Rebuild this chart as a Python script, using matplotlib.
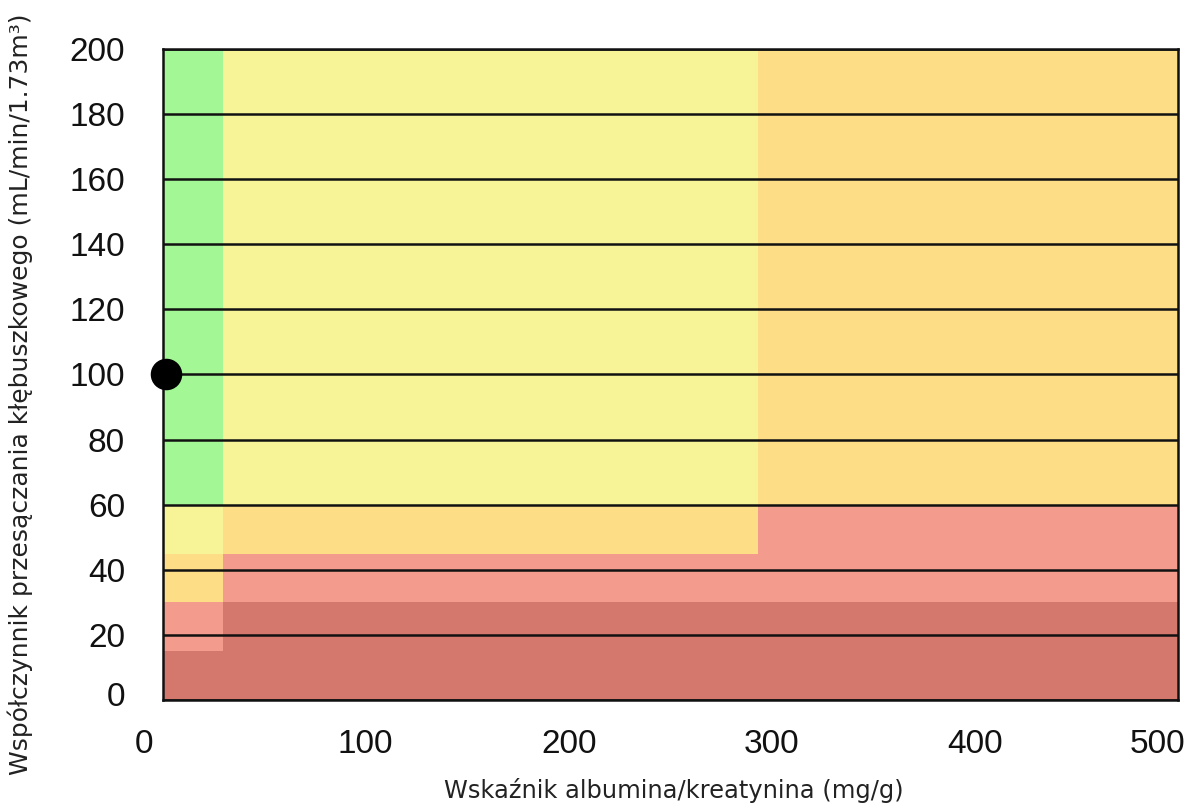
import matplotlib
matplotlib.use("Agg")
import matplotlib.pyplot as plt
import matplotlib.transforms as mtransforms

# Albumin/creatinine ratio column boundaries (mg/g)
acr_edges = [0, 30, 293, 500]

# GFR band boundaries and risk level of each band, per ACR column
gfr_breaks = [
    [0, 15, 30, 45, 60, 200],
    [0, 30, 45, 60, 200],
    [0, 30, 60, 200],
]
risk_levels = [
    [4, 3, 2, 1, 0],
    [4, 3, 2, 1],
    [4, 3, 2],
]
risk_colors = ["#a3f794", "#f7f497", "#fedd87", "#f39b8d", "#d4786d"]

# Patient result
patient_acr = [1.7]
patient_gfr = [100]

x_ticks = [0, 100, 200, 300, 400, 500]
y_ticks = [0, 20, 40, 60, 80, 100, 120, 140, 160, 180, 200]

fig = plt.figure(figsize=(11.92, 8.05), dpi=100)
W, H = 1192, 805
left, right, top, bottom = 162.5, 1178, 49, 700
ax = fig.add_axes([left / W, 1 - bottom / H, (right - left) / W, (bottom - top) / H])

for c in range(len(acr_edges) - 1):
    x0, x1 = acr_edges[c], acr_edges[c + 1]
    br = gfr_breaks[c]
    for k, lvl in enumerate(risk_levels[c]):
        ax.bar(x0, br[k + 1] - br[k], bottom=br[k], width=x1 - x0, align="edge",
               color=risk_colors[lvl], linewidth=0, zorder=1)

ax.set_xlim(0, 500)
ax.set_ylim(0, 200)
ax.set_xticks(x_ticks)
ax.set_yticks(y_ticks)
ax.yaxis.grid(True, color="#111111", linewidth=1.8, zorder=2)
ax.set_axisbelow(False)
ax.tick_params(length=0, labelsize=24)
ax.tick_params(axis="y", pad=27)
ax.tick_params(axis="x", pad=21)
for lab in ax.get_xticklabels() + ax.get_yticklabels():
    lab.set_fontfamily("Liberation Sans")
    lab.set_color("#111111")

# nudge the end labels of the x axis inward
xl = ax.get_xticklabels()
xl[0].set_transform(xl[0].get_transform() + mtransforms.ScaledTranslation(-18 / 100, 0, fig.dpi_scale_trans))
xl[-1].set_transform(xl[-1].get_transform() + mtransforms.ScaledTranslation(-21 / 100, 0, fig.dpi_scale_trans))
yl = ax.get_yticklabels()
yl[0].set_transform(yl[0].get_transform() + mtransforms.ScaledTranslation(0, 6 / 100, fig.dpi_scale_trans))

for s in ax.spines.values():
    s.set_linewidth(1.8)
    s.set_color("#111111")
    s.set_zorder(3)

ax.scatter(patient_acr, patient_gfr, s=470, color="black", zorder=5, clip_on=False)

ax.set_xlabel("Wskaźnik albumina/kreatynina (mg/g)", fontsize=17.4,
              fontfamily="DejaVu Sans", color="#222222")
ax.set_ylabel("Współczynnik przesączania kłębuszkowego (mL/min/1.73m³)", fontsize=18,
              fontfamily="DejaVu Sans", color="#222222")
ax.xaxis.set_label_coords((674 - left) / (right - left), (bottom - 790) / (bottom - top))
ax.xaxis.label.set_va("center")
ax.yaxis.set_label_coords((20 - left) / (right - left), (bottom - 394) / (bottom - top))
ax.yaxis.label.set_va("center")

fig.savefig("out.png", dpi=100)
